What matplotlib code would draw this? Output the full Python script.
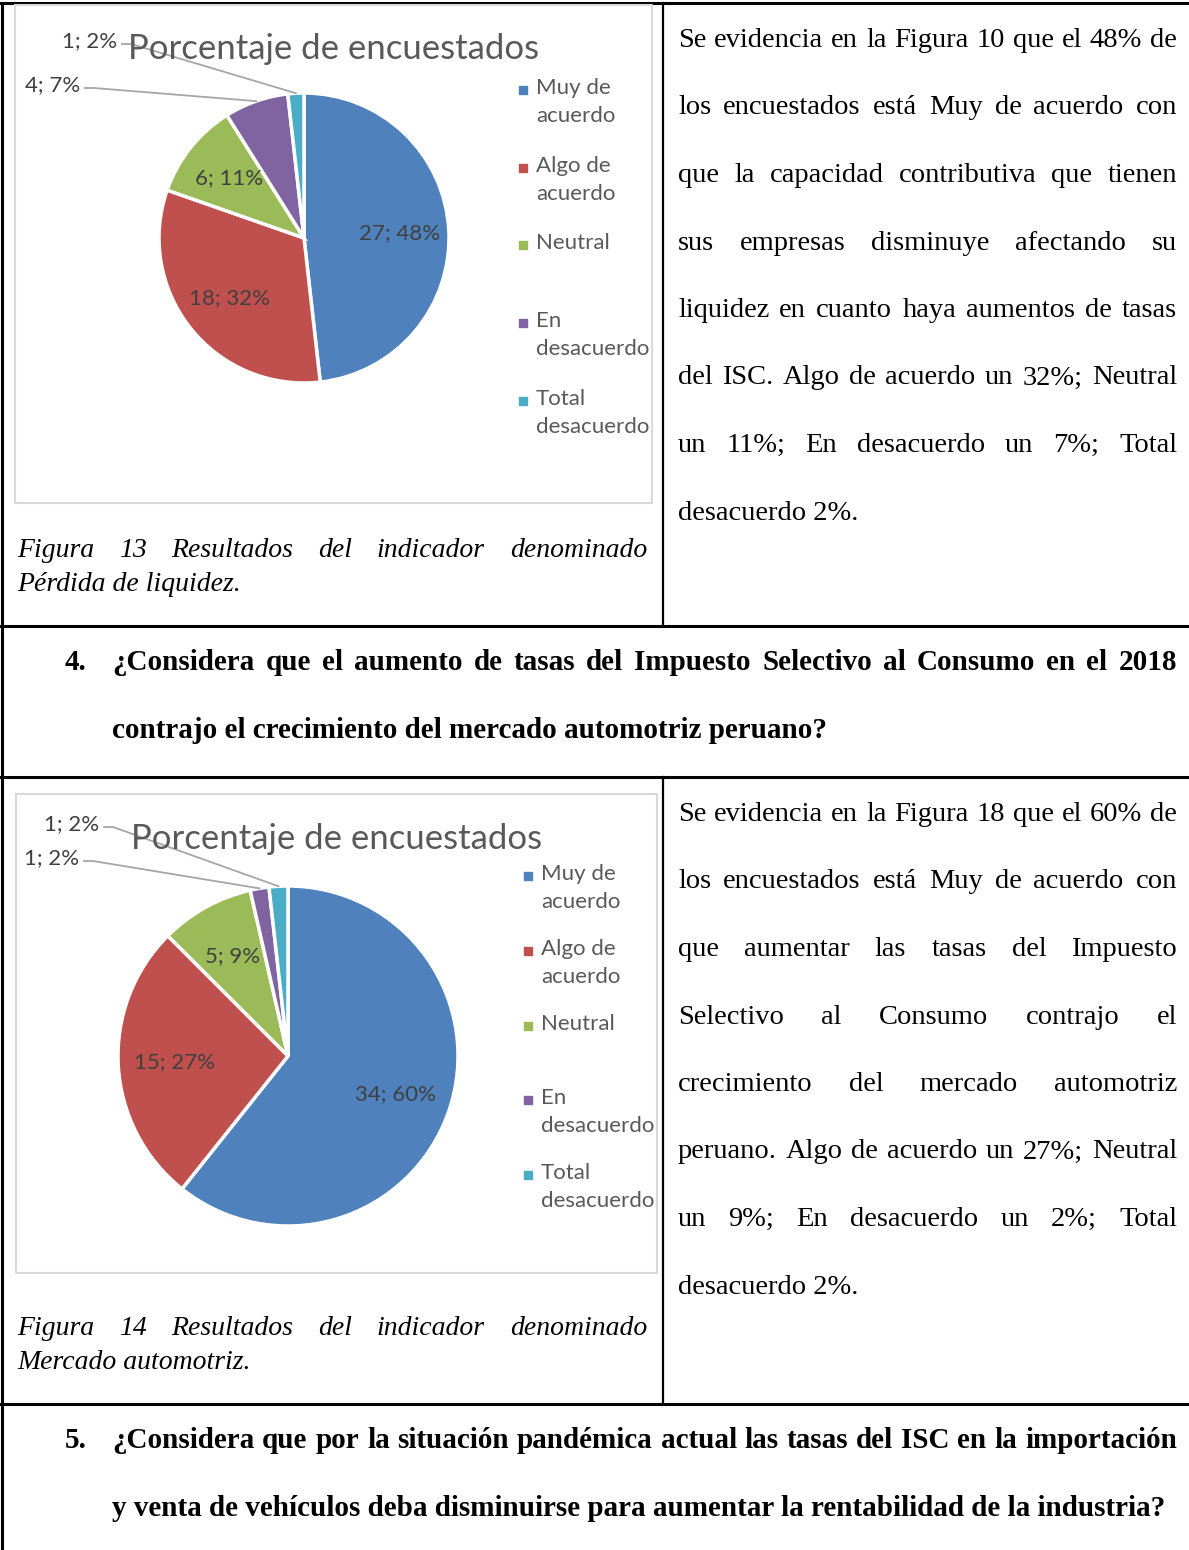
import numpy as np
import matplotlib
matplotlib.use("Agg")
import matplotlib.pyplot as plt

# data
categories = ["Muy de\nacuerdo", "Algo de\nacuerdo", "Neutral", "En\ndesacuerdo", "Total\ndesacuerdo"]
liquidez_counts = [27, 18, 6, 4, 1]
liquidez_pcts = [48, 32, 11, 7, 2]
mercado_counts = [34, 15, 5, 1, 1]
mercado_pcts = [60, 27, 9, 2, 2]
colors = ["#4F81BD", "#C0504D", "#9BBB59", "#8064A2", "#4BACC6"]

chart_title = "Porcentaje de encuestados"

text_fig13 = [
    "Se evidencia en la Figura 10 que el 48% de",
    "los encuestados está Muy de acuerdo con",
    "que la capacidad contributiva que tienen",
    "sus empresas disminuye afectando su",
    "liquidez en cuanto haya aumentos de tasas",
    "del ISC. Algo de acuerdo un 32%; Neutral",
    "un 11%; En desacuerdo un 7%; Total",
    "desacuerdo 2%.",
]
text_fig14 = [
    "Se evidencia en la Figura 18 que el 60% de",
    "los encuestados está Muy de acuerdo con",
    "que aumentar las tasas del Impuesto",
    "Selectivo al Consumo contrajo el",
    "crecimiento del mercado automotriz",
    "peruano. Algo de acuerdo un 27%; Neutral",
    "un 9%; En desacuerdo un 2%; Total",
    "desacuerdo 2%.",
]
caption13 = ["Figura 13 Resultados del indicador denominado", "Pérdida de liquidez."]
caption14 = ["Figura 14 Resultados del indicador denominado", "Mercado automotriz."]
question4 = ["¿Considera que el aumento de tasas del Impuesto Selectivo al Consumo en el 2018",
             "contrajo el crecimiento del mercado automotriz peruano?"]
question5 = ["¿Considera que por la situación pandémica actual las tasas del ISC en la importación",
             "y venta de vehículos deba disminuirse para aumentar la rentabilidad de la industria?"]

W, H = 1189, 1550
fig = plt.figure(figsize=(W / 100, H / 100), dpi=100)
bg = fig.add_axes([0, 0, 1, 1])
bg.set_xlim(0, W)
bg.set_ylim(H, 0)
bg.axis("off")
bg.set_zorder(5)  # overlay: labels must sit above the pie axes
renderer = fig.canvas.get_renderer()

SERIF = "Liberation Serif"
SANS = "Lato"
GREY = "#404040"


def justify(lines, x0, x1, y0, step, size, style="normal", weight="normal", last_left=True):
    for i, line in enumerate(lines):
        y = y0 + i * step
        words = line.split(" ")
        kw = dict(fontsize=size, family=SERIF, style=style, weight=weight, va="baseline", color="black")
        if (last_left and i == len(lines) - 1) or len(words) == 1:
            bg.text(x0, y, line, ha="left", **kw)
            continue
        texts = [bg.text(0, y, w, ha="left", **kw) for w in words]
        widths = [t.get_window_extent(renderer).width for t in texts]
        gap = (x1 - x0 - sum(widths)) / (len(words) - 1)
        x = x0
        for t, w in zip(texts, widths):
            t.set_x(x)
            x += w + gap


# table rules
lw = 2.2
bg.plot([0, W], [3, 3], color="black", lw=lw)
bg.plot([2, 2], [3, H], color="black", lw=lw)
for yy in [626, 777, 1404]:
    bg.plot([0, W], [yy, yy], color="black", lw=lw)
bg.plot([663, 663], [3, 626], color="black", lw=1.6)
bg.plot([663, 663], [777, 1404], color="black", lw=1.6)

# chart frames
for (x0, y0, x1, y1) in [(15, 5, 652, 503), (16, 794, 657, 1273)]:
    bg.plot([x0, x1, x1, x0, x0], [y0, y0, y1, y1, y0], color="#D9D9D9", lw=1.5)


def draw_pie(counts, pcts, cx, cy, r, inside_dist, outside_pos, title_xy, legend_x, legend_ys):
    ax = fig.add_axes([(cx - r) / W, 1 - (cy + r) / H, 2 * r / W, 2 * r / H])
    wedges, _ = ax.pie(counts, colors=colors, startangle=90, counterclock=False,
                       wedgeprops=dict(edgecolor="white", linewidth=2.5))
    ax.set_xlim(-1, 1)
    ax.set_ylim(-1, 1)
    ax.set_aspect("equal")
    ax.axis("off")
    k = 0
    for i, wdg in enumerate(wedges):
        mid = np.deg2rad((wdg.theta1 + wdg.theta2) / 2)
        lab = f"{counts[i]}; {pcts[i]}%"
        if pcts[i] >= 8:
            bg.text(cx + inside_dist * r * np.cos(mid), cy - inside_dist * r * np.sin(mid), lab,
                    ha="center", va="center", fontsize=16, family=SANS, color=GREY)
        else:
            # leader label for the small slices
            lx, ly = outside_pos[k]
            k += 1
            bg.text(lx, ly, lab, ha="right", va="center", fontsize=16, family=SANS, color=GREY)
            ax_x = cx + r * np.cos(mid)
            ax_y = cy - r * np.sin(mid)
            bg.plot([lx + 5, lx + 14, ax_x], [ly + 3, ly + 3, ax_y], color="#A6A6A6", lw=1.3)
    bg.text(title_xy[0], title_xy[1], chart_title, ha="center", va="center", fontsize=25,
            family=SANS, color="#595959")
    for i, (name, yy) in enumerate(zip(categories, legend_ys)):
        bg.scatter([legend_x], [yy], marker="s", s=40, color=colors[i], zorder=3)
        bg.text(legend_x + 13, yy - 12, name, ha="left", va="top", fontsize=16, family=SANS,
                color="#595959", linespacing=1.5)


# outside label spots listed in wedge order (purple, then cyan)
draw_pie(liquidez_counts, liquidez_pcts, 304, 238, 145, 0.66,
         [(80, 85), (117, 41)], (334, 49), 523, [90, 168, 245, 323, 401])
draw_pie(mercado_counts, mercado_pcts, 288, 1056, 170, 0.67,
         [(79, 858), (99, 824)], (337, 839), 528, [876, 951, 1026, 1100, 1175])

# captions
justify(caption13, 17, 647, 557, 34, 20, style="italic")
justify(caption14, 17, 647, 1335, 34, 20, style="italic")

# right hand commentary
justify(text_fig13, 678, 1177, 47, 67.5, 20.5)
justify(text_fig14, 678, 1177, 821, 67.5, 20.5)

# questions
for num, q, y0 in [("4.", question4, 670), ("5.", question5, 1448)]:
    bg.text(65, y0, num, ha="left", va="baseline", fontsize=21, family=SERIF, weight="bold")
    justify(q, 112, 1177, y0, 67.5, 21, weight="bold")

fig.savefig("out.png", dpi=100)
